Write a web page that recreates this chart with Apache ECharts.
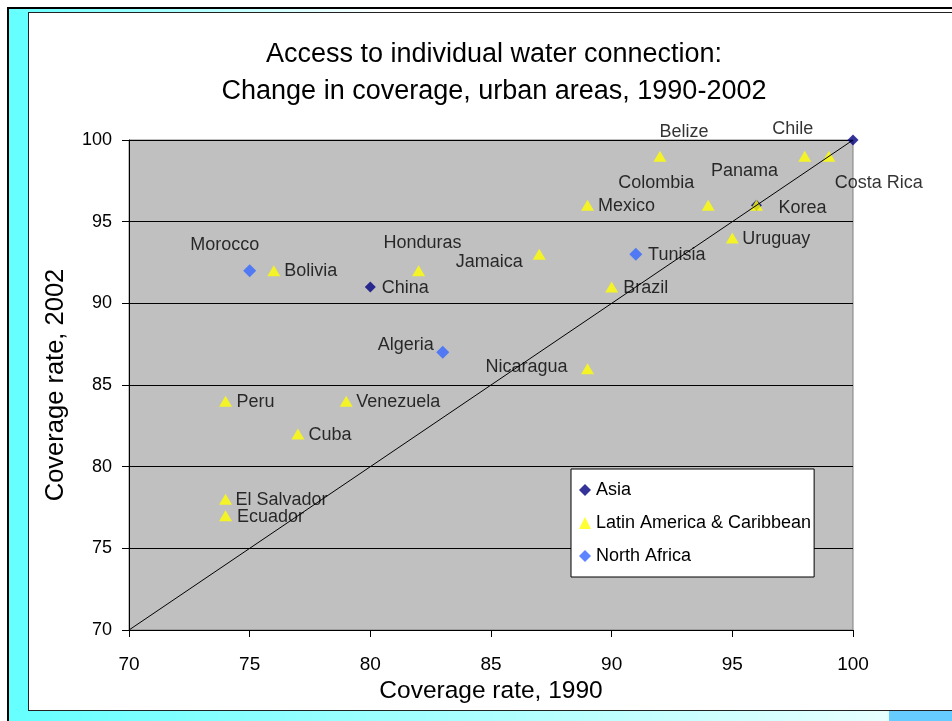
<!DOCTYPE html>
<html><head><meta charset="utf-8">
<script src="https://cdn.jsdelivr.net/npm/echarts@6/dist/echarts.min.js"></script>
<style>
html,body{margin:0;padding:0;width:952px;height:721px;overflow:hidden;background:#fff;}
#outer{position:absolute;left:7px;top:7px;width:960px;height:730px;border-left:2px solid #000;border-top:2px solid #000;box-sizing:border-box;}
#leftband{position:absolute;left:9px;top:9px;width:20px;height:712px;background:#66ffff;}
#topband{position:absolute;left:9px;top:9px;width:943px;height:3px;background:linear-gradient(to right,#66ffff,#ffffff 40%);}
#botband{position:absolute;left:9px;top:711px;width:943px;height:10px;background:linear-gradient(to right,#66ffff,#eaffff 95%);}
#botbox{position:absolute;left:889px;top:711px;width:63px;height:10px;background:#66ccff;}
#panel{position:absolute;left:28px;top:12px;width:940px;height:699px;background:#fff;border:1px solid #222;box-sizing:border-box;}
#chart{position:absolute;left:0;top:0;width:952px;height:721px;}
</style></head>
<body>
<div id="outer"></div><div id="leftband"></div><div id="topband"></div><div id="botband"></div><div id="botbox"></div>
<div id="panel"></div>
<div id="chart"></div>
<script>
// ---- data ----
const titleLines = ['Access to individual water connection:', 'Change in coverage, urban areas, 1990-2002'];
const xAxisName = 'Coverage rate, 1990';
const yAxisName = 'Coverage rate, 2002';
const xTicks = [70, 75, 80, 85, 90, 95, 100];
const yTicks = [70, 75, 80, 85, 90, 95, 100];

const seriesNames = ['Asia', 'Latin America & Caribbean', 'North Africa'];

const asiaNames = ['China', 'Korea', ''];
const asiaX = [80, 96, 100];
const asiaY = [91, 96, 100];

const latinNames = ['Belize', 'Chile', 'Costa Rica', 'Colombia', 'Panama', 'Mexico', 'Uruguay', 'Jamaica', 'Honduras', 'Bolivia', 'Brazil', 'Nicaragua', 'Peru', 'Venezuela', 'Cuba', 'El Salvador', 'Ecuador'];
const latinX = [92, 98, 99, 94, 96, 89, 95, 87, 82, 76, 90, 89, 74, 79, 77, 74, 74];
const latinY = [99, 99, 99, 96, 96, 96, 94, 93, 92, 92, 91, 86, 84, 84, 82, 78, 77];

const africaNames = ['Morocco', 'Tunisia', 'Algeria'];
const africaX = [75, 91, 83];
const africaY = [92, 93, 87];

const refLineX = [70, 100];
const refLineY = [70, 100];

// ---- label placement (styling) ----
const labelOffsets = {
  'China': [35, 1], 'Korea': [46, 3],
  'Belize': [24, -24], 'Chile': [-12, -27], 'Costa Rica': [50, 27], 'Colombia': [-52, -22],
  'Panama': [-12, -34], 'Mexico': [39, 1], 'Uruguay': [44, 1], 'Jamaica': [-50, 8],
  'Honduras': [4, -28], 'Bolivia': [37, 0], 'Brazil': [34, 1], 'Nicaragua': [-61, -2],
  'Peru': [30, 1], 'Venezuela': [52, 1], 'Cuba': [32, 1], 'El Salvador': [56, 1], 'Ecuador': [45, 1],
  'Morocco': [-25, -26], 'Tunisia': [41, 1], 'Algeria': [-37, -7]
};

const FONT = '"Liberation Sans", Arial, sans-serif';

function build(names, xs, ys) {
  return names.map((n, i) => ({
    name: n,
    value: [xs[i], ys[i]],
    label: n ? { show: true, offset: labelOffsets[n] || [0, 0] } : { show: false }
  }));
}

const labelStyle = {
  show: true, position: 'inside', formatter: '{b}',
  color: '#000', fontSize: 18, fontFamily: FONT
};

const chart = echarts.init(document.getElementById('chart'), null, { renderer: 'canvas' });
chart.setOption({
  backgroundColor: 'transparent',
  animation: false,
  textStyle: { fontFamily: FONT },
  title: {
    text: titleLines.join('\n'),
    left: 489, top: 31, textAlign: 'center',
    textStyle: { fontSize: 27, fontWeight: 'normal', color: '#000', lineHeight: 37, fontFamily: FONT }
  },
  legend: {
    data: seriesNames,
    orient: 'vertical',
    left: 571, top: 469,
    backgroundColor: '#fff', borderColor: '#000', borderWidth: 1,
    padding: [12, 3, 12, 8],
    itemGap: 15, itemWidth: 12, itemHeight: 12,
    textStyle: { fontSize: 18, color: '#000', lineHeight: 14, fontFamily: FONT }
  },
  grid: {
    left: 129, top: 140, width: 724, height: 490,
    show: true, backgroundColor: '#c0c0c0', borderColor: '#808080', borderWidth: 1
  },
  xAxis: {
    type: 'value', min: xTicks[0], max: xTicks[xTicks.length - 1], interval: xTicks[1] - xTicks[0],
    name: xAxisName, nameLocation: 'middle', nameGap: 49,
    nameTextStyle: { fontSize: 24.5, color: '#000', fontFamily: FONT },
    axisLine: { show: true, onZero: false, lineStyle: { color: '#000', width: 1 } },
    axisTick: { show: true, length: 7, lineStyle: { color: '#000' } },
    axisLabel: { fontSize: 19, color: '#000', margin: 25, fontFamily: FONT },
    splitLine: { show: false }
  },
  yAxis: {
    type: 'value', min: yTicks[0], max: yTicks[yTicks.length - 1], interval: yTicks[1] - yTicks[0],
    name: yAxisName, nameLocation: 'middle', nameGap: 60,
    nameTextStyle: { fontSize: 25.5, color: '#000', fontFamily: FONT },
    axisLine: { show: true, onZero: false, lineStyle: { color: '#000', width: 1 } },
    axisTick: { show: true, length: 7, lineStyle: { color: '#000' } },
    axisLabel: { fontSize: 18, color: '#000', margin: 17, fontFamily: FONT },
    splitLine: { show: true, lineStyle: { color: '#000', width: 1 } }
  },
  series: [
    {
      name: seriesNames[0], type: 'scatter', symbol: 'diamond', symbolSize: 11,
      itemStyle: { color: '#000080' }, label: labelStyle, z: 2,
      data: build(asiaNames, asiaX, asiaY)
    },
    {
      name: seriesNames[1], type: 'scatter', symbol: 'triangle', symbolSize: [13, 11],
      itemStyle: { color: '#ffff00' }, label: labelStyle, z: 3,
      data: build(latinNames, latinX, latinY)
    },
    {
      name: seriesNames[2], type: 'scatter', symbol: 'diamond', symbolSize: 13,
      itemStyle: { color: '#3366ff' }, label: labelStyle, z: 3,
      data: build(africaNames, africaX, africaY)
    },
    {
      name: 'ref', type: 'line', symbol: 'none', silent: true, z: 5,
      lineStyle: { color: '#000', width: 1 },
      data: refLineX.map((x, i) => [x, refLineY[i]])
    }
  ]
});
</script>
</body></html>
